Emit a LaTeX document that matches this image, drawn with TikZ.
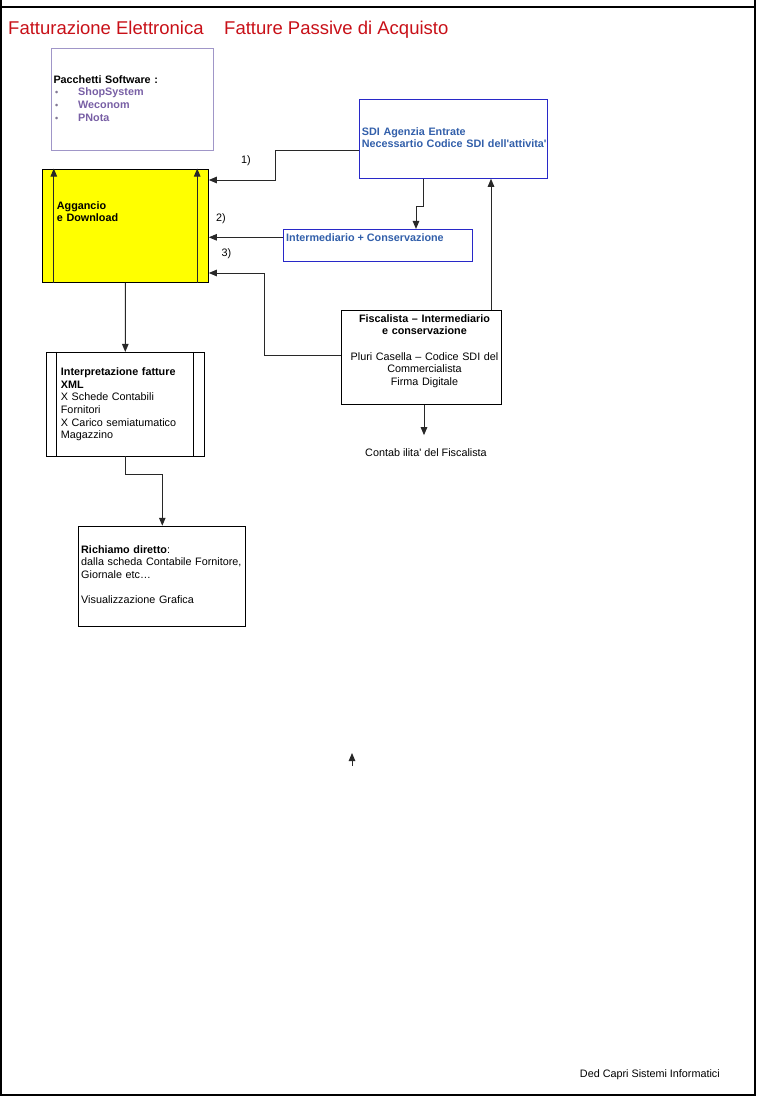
\documentclass[tikz,border=0pt]{standalone}
\usepackage{fontspec}
\setmainfont{Liberation Sans}
\usetikzlibrary{arrows.meta}
\newcommand{\pkgitem}[1]{\hspace*{1.7pt}\makebox[23pt][l]{\color[RGB]{130,120,150}\small\textbullet}{\color[RGB]{120,95,165}#1}}
\begin{document}
\begin{tikzpicture}[
    x=1pt, y=-1pt,
    txt/.style={inner sep=0pt, font=\fontsize{10.8}{12.6}\selectfont},
    bold/.style={txt, font=\fontsize{10.8}{12.6}\selectfont\bfseries},
    bluetxt/.style={bold, text={rgb,255: red,50; green,95; blue,170}},
    heading/.style={inner sep=0pt, anchor=base west, font=\fontsize{18.5}{22}\selectfont,
                    text={rgb,255: red,200; green,16; blue,24}},
    box/.style={rectangle, draw, line width=0.8pt, inner sep=0pt},
    softbox/.style={box, draw={rgb,255: red,160; green,150; blue,200}},
    sdibox/.style={box, draw={rgb,255: red,40; green,40; blue,200}},
    yellowbox/.style={box, fill={rgb,255: red,255; green,255; blue,0}, line width=1pt},
    link/.style={-{Triangle[length=8pt, width=6.5pt]}, line width=1pt,
                 draw={rgb,255: red,40; green,40; blue,40}},
    pageline/.style={line width=1.5pt}
]
\useasboundingbox (0, 0) rectangle (756, 1096);

\draw [pageline] (0, 7) -- (756, 7);
\draw [pageline] (0, 1095) -- (756, 1095);
\draw [pageline] (1, 0) -- (1, 1096);
\draw [pageline] (755, 0) -- (755, 1096);

\node (head1) [heading] at (8, 34.7) {Fatturazione Elettronica};
\node (head2) [heading] at (224, 34.7) {Fatture Passive di Acquisto};

\node (soft) [softbox, minimum width=162.7pt, minimum height=102pt] at (132.4, 99.3) {};
\node (softtxt) [bold, anchor=base west, text width=150pt, align=left] at (53.3, 83.3)
    {Pacchetti Software :\\\pkgitem{ShopSystem}\\\pkgitem{Weconom}\\\pkgitem{PNota}};

\node (sdi) [sdibox, minimum width=188.7pt, minimum height=79.3pt] at (453.4, 138.7) {};
\node (sditxt) [bluetxt, anchor=base west, text width=185pt, align=left] at (361.7, 135)
    {SDI Agenzia Entrate\\Necessartio Codice SDI dell\textquotesingle attivita\textquotesingle};

\node (yellow) [yellowbox, minimum width=165.6pt, minimum height=113.3pt] at (125.5, 225.7) {};
\node (aggtxt) [bold, anchor=base west, text width=100pt, align=left] at (56.7, 209)
    {Aggancio\\e Download};

\node (inter) [sdibox, minimum width=189.4pt, minimum height=31.7pt] at (378, 245.2) {};
\node (intertxt) [bluetxt, anchor=base west] at (286, 241) {Intermediario + Conservazione};

\node (fisc) [box, minimum width=160pt, minimum height=93.6pt] at (421, 357.5) {};
\node (fisctxt) [txt, anchor=base, text width=158pt, align=center] at (424.5, 322.3)
    {{\bfseries Fiscalista – Intermediario\\e conservazione}\\[12.6pt]Pluri Casella – Codice SDI del\\Commercialista\\Firma Digitale};

\node (interp) [box, minimum width=158.3pt, minimum height=103.7pt] at (125.2, 404.2) {};
\node (interptxt) [txt, anchor=base west, text width=140pt, align=left] at (60.7, 375.7)
    {{\bfseries Interpretazione fatture\\XML}\\X Schede Contabili\\Fornitori\\X Carico semiatumatico\\Magazzino};
\draw [box] ([xshift=11pt]interp.north west) -- ([xshift=11pt]interp.south west);
\draw [box] ([xshift=-11pt]interp.north east) -- ([xshift=-11pt]interp.south east);

\node (richiamo) [box, minimum width=167pt, minimum height=100.7pt] at (162.3, 576.5) {};
\node (richtxt) [txt, anchor=base west, text width=165pt, align=left] at (81, 553)
    {\textbf{Richiamo diretto}:\\dalla scheda Contabile Fornitore,\\Giornale etc…\\[12.6pt]Visualizzazione Grafica};

\node (contab) [txt, anchor=base] at (426, 456.7) {Contab ilita\textquotesingle{} del Fiscalista};
\node (lab1) [txt] at (246, 161) {1)};
\node (lab2) [txt] at (221, 219) {2)};
\node (lab3) [txt] at (226.5, 254) {3)};
\node (footer) [txt, anchor=base east] at (720, 1077) {Ded Capri Sistemi Informatici};

\draw [link] ([xshift=11.6pt]yellow.south west) -- ([xshift=11.6pt]yellow.north west);
\draw [link] ([xshift=-11.6pt]yellow.south east) -- ([xshift=-11.6pt]yellow.north east);

\draw [link] ([yshift=-11.6pt]sdi.west) -- ++(-83, 0) |- ([yshift=45.7pt]yellow.east);
\draw [link] ([yshift=7.9pt]inter.west) -- ([yshift=7.9pt]inter.west -| yellow.east);
\draw [link] ([yshift=1.8pt]fisc.west) -- ++(-76, 0) |- ([yshift=-47.3pt]yellow.east);
\draw [link] ([xshift=-30.4pt]sdi.south) -- ++(0, 27.7) -| ([xshift=38pt]inter.north);
\draw [link] ([xshift=70pt]fisc.north) -- ([xshift=70pt]fisc.north |- sdi.south);
\draw [link, shorten >=13.5pt] ([xshift=3pt]fisc.south) -- ([xshift=3pt]fisc.south |- contab.north);
\draw [link] (yellow) -- (interp);
\draw [link] (interp.south) -- ++(0, 18) -| (richiamo.north);

\coordinate (stray) at (352, 766);
\draw [link] (stray) -- ++(0, -13);
\end{tikzpicture}
\end{document}
